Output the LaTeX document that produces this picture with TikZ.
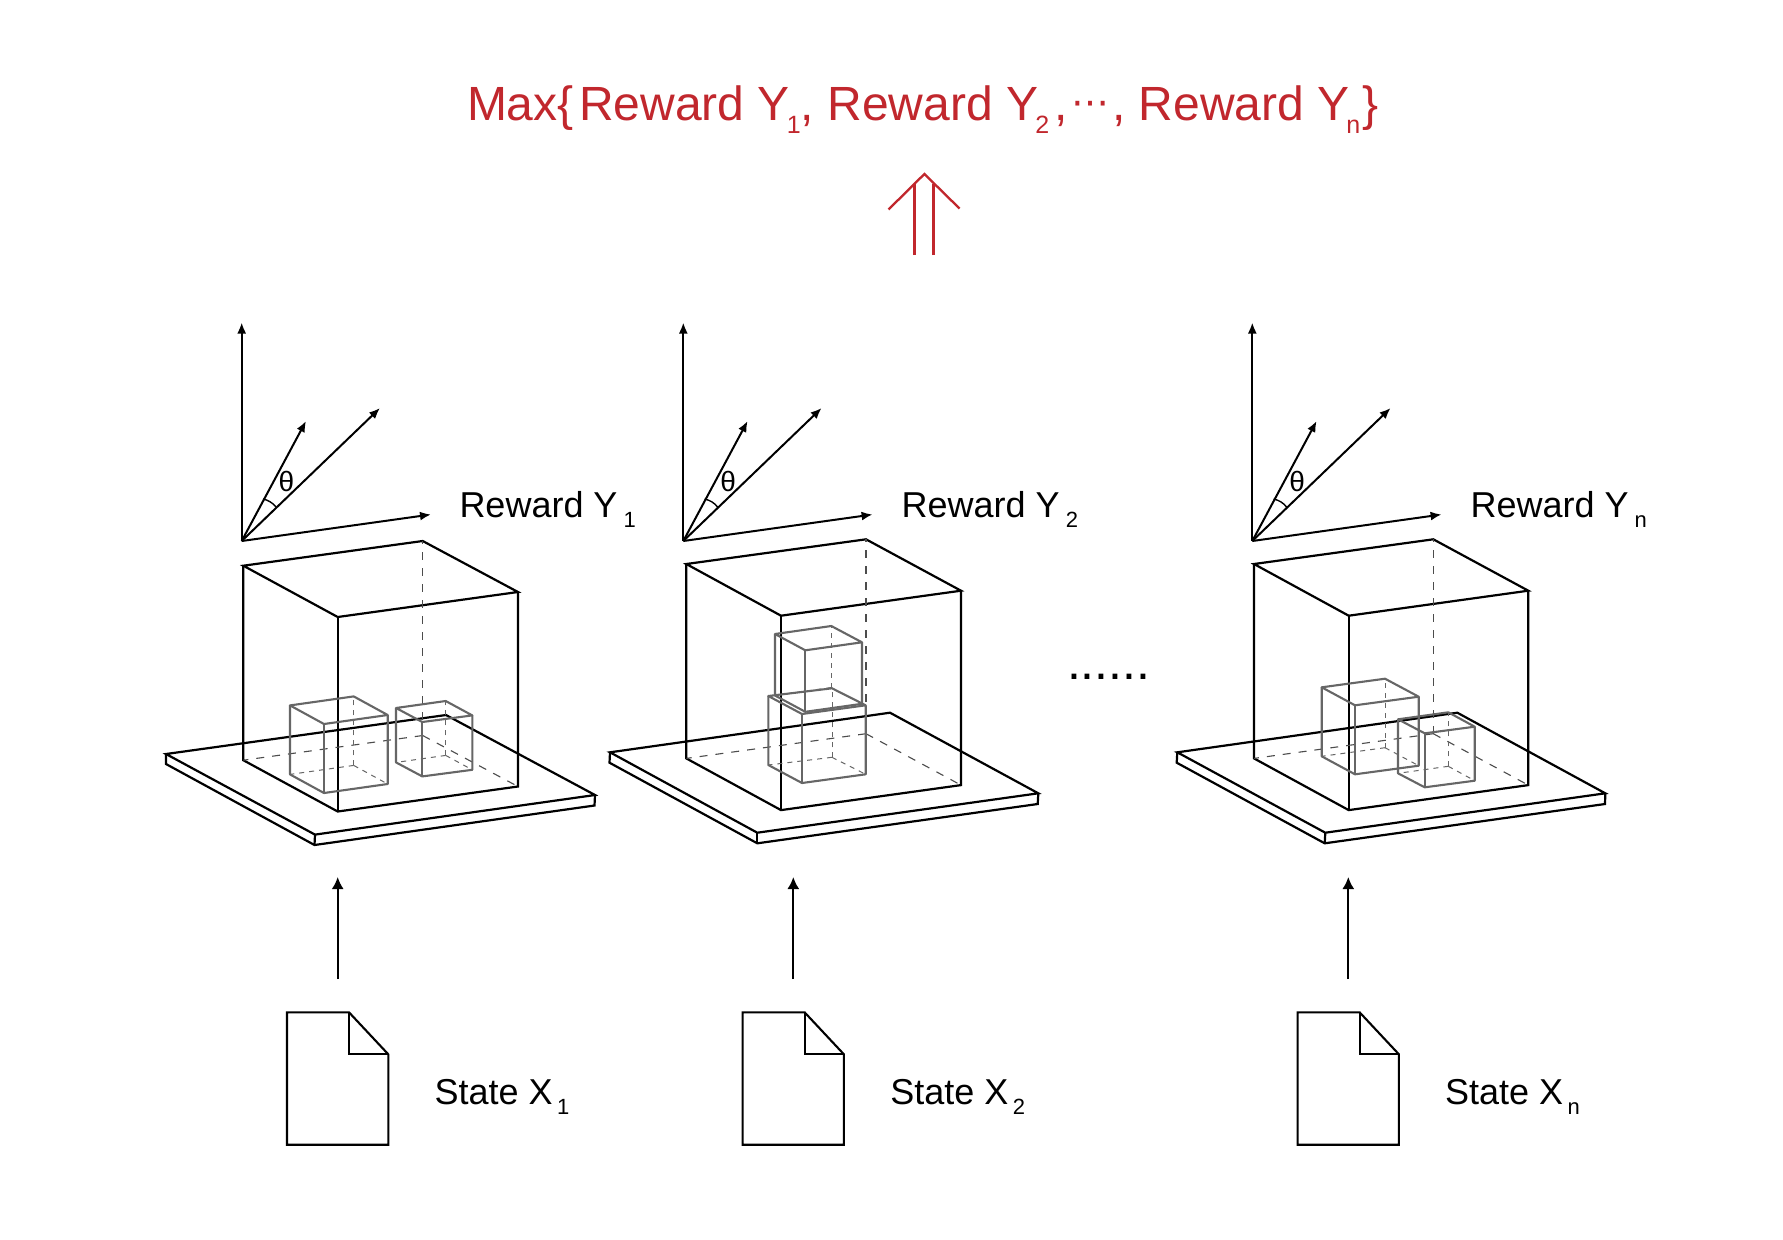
\documentclass[tikz,border=0pt]{standalone}
\usepackage{fontspec}
\setmainfont{Liberation Sans}
\newfontfamily\symfont{DejaVu Sans}
\usetikzlibrary{arrows.meta,calc}
\definecolor{redink}{HTML}{C1272D}
\definecolor{greyink}{HTML}{666666}
\newcommand\lbl[1]{{\fontsize{36bp}{40bp}\selectfont #1}}
\newcommand\lowsub[2]{\kern#1bp\raisebox{-10bp}{\fontsize{22bp}{24bp}\selectfont #2}}
\newcommand\bigsub[1]{\kern-3bp\raisebox{-13bp}{\fontsize{25bp}{28bp}\selectfont #1}}
% style, top-left, top-back, top-right, top-front, height
\newcommand\wirecube[6]{%
  \draw[#1] (#2) -- (#3) -- (#4) -- (#5) -- cycle;
  \draw[#1] (#2) -- ($(#2)+(0,#6)$) -- ($(#5)+(0,#6)$) -- ($(#4)+(0,#6)$) -- (#4);
  \draw[#1] (#5) -- ($(#5)+(0,#6)$);
  \draw[#1,hidden] ($(#3)+(0,#6)$) -- (#3);
  \draw[#1,hidden] ($(#3)+(0,#6)$) -- ($(#2)+(0,#6)$);
  \draw[#1,hidden] ($(#3)+(0,#6)$) -- ($(#4)+(0,#6)$);
}
% plate: top-left, back, right, front, bottom-left, bottom-front, bottom-right
\newcommand\plate[7]{%
  \draw[plateline] (#1) -- (#2) -- (#3) -- (#4) -- cycle;
  \draw[plateline] (#1) -- (#5) -- (#6) -- (#7) -- (#3);
  \draw[plateline] (#4) -- (#6);
}
\tikzset{
  x=1bp,y=-1bp,
  plateline/.style={black,line width=2.2bp,line join=miter},
  bigcube/.style={black,line width=2.2bp,line join=miter,hidden/.style={line width=1.1bp,dash pattern=on 8bp off 8bp,black!70}},
  smallcube/.style={greyink,line width=2.1bp,line join=round,hidden/.style={line width=1bp,dash pattern=on 5bp off 5bp}},
  axisarrow/.style={black,line width=2bp,-{Latex[length=11bp,width=9bp]}},
  statearrow/.style={black,line width=1.9bp,-{Latex[length=12bp,width=12bp]}},
  docline/.style={black,line width=2.1bp,line join=miter},
  plain/.style={anchor=base west,inner sep=0pt,outer sep=0pt},
  hidden/.style={}
}
\begin{document}
\begin{tikzpicture}
\useasboundingbox[fill=white] (0,0) rectangle (1783,1239.5);

% title
\node[plain,text=redink] (title) at (467,120) {\fontsize{48bp}{52bp}\selectfont Max\{\kern5.5bp Reward Y\bigsub{1}, Reward Y\bigsub{2}\kern5bp,\kern4bp {\symfont\fontsize{38bp}{40bp}\selectfont\raisebox{5bp}{⋯}}\kern2.5bp, Reward Y\bigsub{n}\kern2bp\}};

% double arrow
\coordinate (shaftL) at (914.6,255);
\coordinate (shaftR) at (933.6,255);
\coordinate (shaftLt) at (914.6,184);
\coordinate (shaftRt) at (933.6,184);
\coordinate (tip) at (924.4,174);
\coordinate (barbL) at (888.5,209.5);
\coordinate (barbR) at (959.5,208.5);
\draw[redink,line width=2.3bp] (shaftL) -- (shaftLt);
\draw[redink,line width=2.3bp] (shaftR) -- (shaftRt);
\draw[redink,line width=2.3bp,line join=miter] (barbL) -- (tip) -- (barbR);

% axes
\foreach \i/\dx/\rx/\lab in {1/0/459.5/1,2/441.6/901.7/2,3/1010.6/1470.5/n}{
  \coordinate (o\i) at (241.7+\dx,541);
  \coordinate (up\i) at (241.7+\dx,322.5);
  \coordinate (near\i) at (306+\dx,421);
  \coordinate (far\i) at (380+\dx,408);
  \coordinate (side\i) at (431+\dx,514.5);
  \draw[axisarrow] (o\i) -- (up\i);
  \draw[axisarrow] (o\i) -- (near\i);
  \draw[axisarrow] (o\i) -- (far\i);
  \draw[axisarrow] (o\i) -- (side\i);
  \draw[black,line width=1.4bp] (263+\dx,499) .. controls (268+\dx,500) and (273+\dx,503) .. (276+\dx,507);
  \node[inner sep=0pt] (theta\i) at (286.5+\dx,481.5) {\fontsize{28bp}{30bp}\selectfont θ};
  \node[plain] (reward\i) at (\rx,517.5) {\lbl{Reward Y\lowsub{6}{\lab}}};
}

% plates
\plate{166,754}{446,715}{595,795}{315,834.6}{166,764}{314.5,845}{594.5,805.5}
\plate{610,752.3}{890,712.7}{1038.3,793.3}{757.3,832.7}{609.5,762.7}{757.3,843.3}{1037.7,804}
\plate{1177.3,752.3}{1457.3,712.7}{1605.3,793.3}{1325.3,832.7}{1176.7,762.7}{1324.7,843.3}{1605,804}

% containers
\wirecube{bigcube}{243.3,565.7}{422.7,541}{518,592}{337.7,617}{194.5}
\wirecube{bigcube}{686.3,564}{866,539.3}{961,590.7}{781,615.7}{194.4}
\wirecube{bigcube}{1254,564}{1433.3,539.3}{1528.3,590.7}{1348.7,615.7}{194.4}

% small cubes
\wirecube{smallcube}{290,705.4}{353.7,696.4}{387.7,715}{324,724}{69}
\wirecube{smallcube}{396,708}{445.7,701}{472.3,715.4}{422.3,722}{54.4}
\wirecube{smallcube}{775,634}{831.3,626}{862,642.3}{805.3,650.3}{61.5}
\wirecube{smallcube}{768.3,696}{832,688.3}{865.7,705.3}{802,714}{69}
\wirecube{smallcube}{1321.7,687.3}{1385,678.7}{1418.7,696.7}{1355,705.3}{69}
\wirecube{smallcube}{1398,719.3}{1448.3,712.3}{1474.7,726.7}{1424.7,733.3}{54}

% dots
\node[plain] (dots) at (1067,679) {\fontsize{50bp}{52bp}\selectfont ......};

% documents and state arrows
\foreach \i/\dx/\tx/\lab in {1/0/434.5/1,2/455.6/890.3/2,3/1010.6/1445/n}{
  \coordinate (start\i) at (337.7+\dx,979);
  \coordinate (end\i) at (337.7+\dx,877);
  \draw[statearrow] (start\i) -- (end\i);
  \coordinate (dtl\i) at (287+\dx,1012.3);
  \coordinate (dfold\i) at (349+\dx,1012.3);
  \coordinate (dmid\i) at (349+\dx,1054.3);
  \coordinate (dtr\i) at (388.3+\dx,1054.3);
  \coordinate (dbr\i) at (388.3+\dx,1144.7);
  \coordinate (dbl\i) at (287+\dx,1144.7);
  \draw[docline] (dtl\i) -- (dfold\i) -- (dtr\i) -- (dbr\i) -- (dbl\i) -- cycle;
  \draw[docline] (dfold\i) -- (dmid\i) -- (dtr\i);
  \node[plain] (state\i) at (\tx,1104.5) {\lbl{State X\lowsub{4.5}{\lab}}};
}
\end{tikzpicture}
\end{document}
